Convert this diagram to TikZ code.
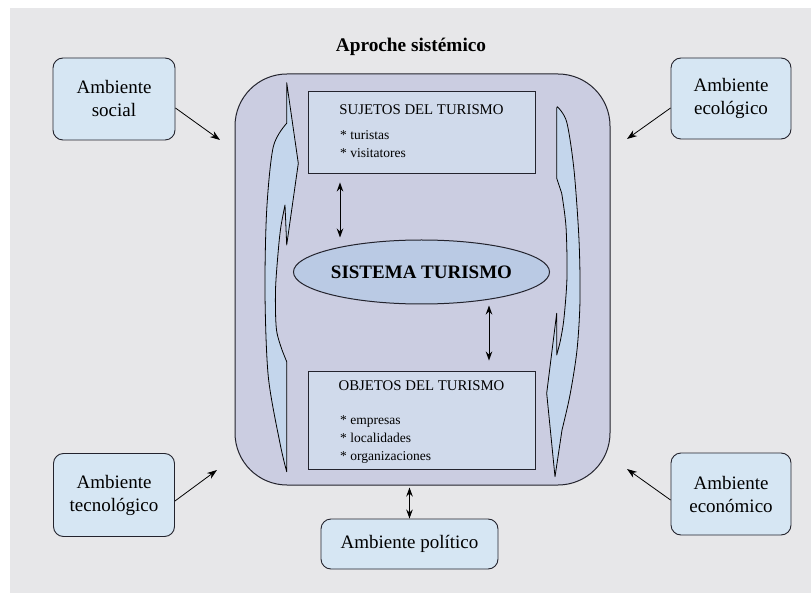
\documentclass[tikz,border=0pt]{standalone}
\usepackage{fontspec}
\setmainfont{Liberation Serif}
\usetikzlibrary{arrows.meta,shapes.geometric,calc}
\definecolor{bgc}{RGB}{231,231,233}
\definecolor{ambfill}{RGB}{214,230,243}
\definecolor{bigfill}{RGB}{203,205,225}
\definecolor{boxfill}{RGB}{208,218,235}
\definecolor{ellfill}{RGB}{186,202,228}
\definecolor{crfill}{RGB}{196,214,236}
\definecolor{edgec}{RGB}{35,35,45}
\tikzset{
  amb/.style={draw=edgec, line width=0.9pt, fill=ambfill, rounded corners=10pt,
    align=center, inner sep=0pt, font=\fontsize{19}{23}\selectfont},
  inbox/.style={draw=edgec, line width=0.9pt, fill=boxfill, inner sep=0pt,
    minimum width=227pt},
  boxtitle/.style={anchor=base, inner sep=0pt, font=\fontsize{14.8}{17}\selectfont},
  bullet/.style={anchor=base west, inner sep=0pt, font=\fontsize{13.5}{16}\selectfont},
  cres/.style={draw=black, line width=0.8pt, fill=crfill, line join=round},
  arr/.style={draw=black, line width=0.8pt, -{Stealth[length=10pt,width=7pt]}},
  dbl/.style={draw=black, line width=1pt, {Stealth[length=9pt,width=6.5pt]}-{Stealth[length=9pt,width=6.5pt]}}
}
\begin{document}
\begin{tikzpicture}[x=1pt,y=-1pt]
\useasboundingbox (0,0) rectangle (811,593);
% background
\fill[bgc] (10,8) rectangle (811,593);
% title
\node[font=\bfseries\fontsize{19.3}{23}\selectfont, inner sep=0pt] (title) at (411,47) {Aproche sistémico};
% big system box
\node[draw=edgec, line width=1pt, fill=bigfill, rounded corners=52pt, minimum width=375pt, minimum height=411pt, inner sep=0pt] (sys) at (422.5,279.5) {};
% left crescent arrow
\filldraw[cres] (286.7,82.7) -- (298.3,163.3) -- (286.7,245) -- (285,205)
  -- plot[smooth] coordinates {(285,205) (281,226) (278.5,248) (275.5,290) (276.5,330) (283.3,353.3)}
  -- (286.7,361.7) -- (286.7,471.7)
  -- plot[smooth] coordinates {(286.7,471.7) (280,443.3) (268.3,376.7) (265,293.3) (266.7,210) (273.3,146.7) (286.7,123.3)}
  -- cycle;
% right crescent arrow
\filldraw[cres] plot[smooth] coordinates {(557.3,106.7) (566.7,122) (574,170) (579,240) (580,300) (577,350) (570,395) (562,430)}
  -- (555,476.7) -- (546.7,393.3) -- (556.7,313.3) -- (556.7,355)
  -- plot[smooth] coordinates {(556.7,355) (560.5,340) (564,318) (567,276.7) (566,226.7) (561.7,193.3)}
  -- (556.7,178.3) -- (556.7,108.3) -- cycle;
% inner boxes
\node[inbox, minimum height=82pt] (suj) at (421.5,132) {};
\node[boxtitle] (sujt) at (421.5,115) {SUJETOS DEL TURISMO};
\node[bullet] (suj1) at (340,140) {* turistas};
\node[bullet] (suj2) at (340,158) {* visitatores};
\node[inbox, minimum height=98pt] (obj) at (421.5,420) {};
\node[boxtitle] (objt) at (421.5,390) {OBJETOS DEL TURISMO};
\node[bullet] (obj1) at (340,424.5) {* empresas};
\node[bullet] (obj2) at (340,442.5) {* localidades};
\node[bullet] (obj3) at (340,460) {* organizaciones};
% ellipse
\node[ellipse, draw=edgec, line width=1pt, fill=ellfill, minimum width=227pt, minimum height=64pt, inner sep=0pt,
  font=\bfseries\fontsize{19}{23}\selectfont] (sis) at (421.5,272) {SISTEMA TURISMO};
% environment boxes
\node[amb, minimum width=122pt, minimum height=82pt] (soc) at (114,99) {Ambiente\\social};
\node[amb, minimum width=120pt, minimum height=81pt] (eco) at (731,98.5) {Ambiente\\ecológico};
\node[amb, minimum width=121pt, minimum height=83pt] (tec) at (114,495) {Ambiente\\tecnológico};
\node[amb, minimum width=120pt, minimum height=82pt] (ecn) at (731,494) {Ambiente\\económico};
\node[amb, minimum width=177pt, minimum height=50pt] (pol) at (409.5,544) {Ambiente político};
% free ends of the arrows
\coordinate (tsoc) at (220,140);
\coordinate (teco) at (627,139);
\coordinate (ttec) at (217,470);
\coordinate (tecn) at (627,469);
\coordinate (a1) at (340,0);
\coordinate (a2) at (489,0);
% arrows
\draw[arr] ($(soc.east)+(0,9)$) -- (tsoc);
\draw[arr] ($(eco.west)+(0,9.5)$) -- (teco);
\draw[arr] ($(tec.east)+(0,6)$) -- (ttec);
\draw[arr] ($(ecn.west)+(0,6)$) -- (tecn);
\draw[dbl, shorten <=9pt, shorten >=2pt] (suj.south -| a1) -- (sis.north -| a1);
\draw[dbl, shorten <=1pt, shorten >=10pt] (sis.south -| a2) -- (obj.north -| a2);
\draw[dbl, shorten <=2pt] (sys.south -| pol.north) -- (pol.north);
\end{tikzpicture}
\end{document}
